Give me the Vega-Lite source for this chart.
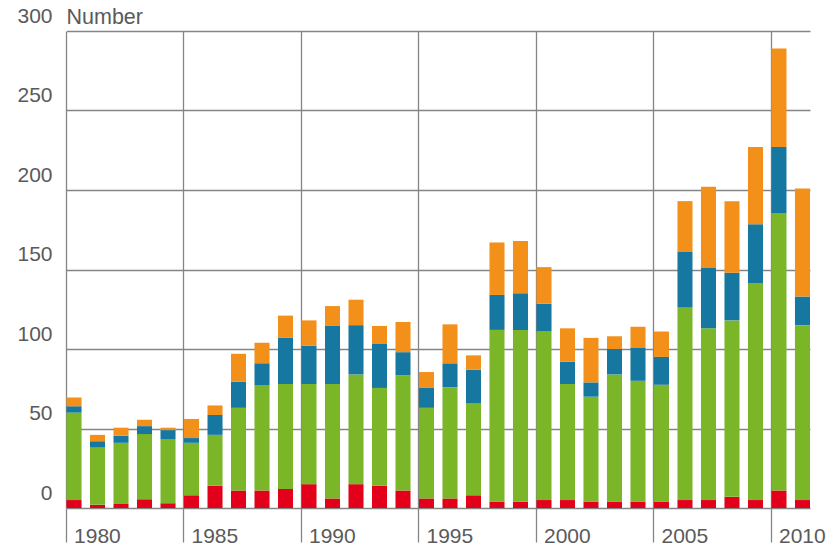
{
  "$schema": "https://vega.github.io/schema/vega-lite/v6.json",
  "width": 798,
  "height": 477,
  "autosize": {"type": "none"},
  "padding": {"left": 12, "top": 31, "right": 23, "bottom": 44},
  "background": "white",
  "config": {
    "view": {"stroke": null},
    "font": "Liberation Sans",
    "axis": {
      "labelFont": "Liberation Sans",
      "titleFont": "Liberation Sans",
      "labelFontSize": 21,
      "titleFontSize": 21.5,
      "labelColor": "#5a5a5a",
      "titleColor": "#5a5a5a",
      "titleFontWeight": "normal",
      "gridColor": "#858585",
      "gridWidth": 1.3,
      "gridOpacity": 1,
      "tickColor": "#858585",
      "tickWidth": 1.3,
      "domain": false,
      "labelOverlap": false
    }
  },
  "data": {
    "values": [
      {"year": 1980, "s1": 5, "s2": 55, "s3": 4, "s4": 5.5},
      {"year": 1981, "s1": 2, "s2": 36, "s3": 4, "s4": 4},
      {"year": 1982, "s1": 2.5, "s2": 38.5, "s3": 4.5, "s4": 5},
      {"year": 1983, "s1": 5.5, "s2": 41, "s3": 5, "s4": 4},
      {"year": 1984, "s1": 3, "s2": 40, "s3": 6, "s4": 1.5},
      {"year": 1985, "s1": 8, "s2": 33, "s3": 3, "s4": 12},
      {"year": 1986, "s1": 14, "s2": 32, "s3": 12.5, "s4": 6},
      {"year": 1987, "s1": 11, "s2": 52, "s3": 16.5, "s4": 17.5},
      {"year": 1988, "s1": 11, "s2": 66, "s3": 14, "s4": 13},
      {"year": 1989, "s1": 12, "s2": 66, "s3": 29, "s4": 14},
      {"year": 1990, "s1": 15, "s2": 63, "s3": 24, "s4": 16},
      {"year": 1991, "s1": 6, "s2": 72, "s3": 36.5, "s4": 12.5},
      {"year": 1992, "s1": 15, "s2": 69, "s3": 31, "s4": 16},
      {"year": 1993, "s1": 14, "s2": 61.5, "s3": 28, "s4": 11},
      {"year": 1994, "s1": 11, "s2": 72.5, "s3": 14.5, "s4": 19},
      {"year": 1995, "s1": 6, "s2": 57, "s3": 12.5, "s4": 10},
      {"year": 1996, "s1": 6, "s2": 70, "s3": 15, "s4": 24.5},
      {"year": 1997, "s1": 8, "s2": 58, "s3": 21, "s4": 9},
      {"year": 1998, "s1": 4, "s2": 108, "s3": 22, "s4": 33},
      {"year": 1999, "s1": 4, "s2": 108, "s3": 23, "s4": 33},
      {"year": 2000, "s1": 5, "s2": 106, "s3": 17.5, "s4": 23},
      {"year": 2001, "s1": 5, "s2": 73, "s3": 14, "s4": 21},
      {"year": 2002, "s1": 4, "s2": 66, "s3": 9, "s4": 28},
      {"year": 2003, "s1": 4, "s2": 80, "s3": 16, "s4": 8},
      {"year": 2004, "s1": 4, "s2": 76, "s3": 21, "s4": 13},
      {"year": 2005, "s1": 4, "s2": 73.5, "s3": 17.5, "s4": 16},
      {"year": 2006, "s1": 5, "s2": 121, "s3": 35, "s4": 32},
      {"year": 2007, "s1": 5, "s2": 108, "s3": 38, "s4": 51},
      {"year": 2008, "s1": 7, "s2": 111, "s3": 30, "s4": 45},
      {"year": 2009, "s1": 5, "s2": 136.5, "s3": 37, "s4": 48.5},
      {"year": 2010, "s1": 11, "s2": 174.5, "s3": 41.5, "s4": 62},
      {"year": 2011, "s1": 5, "s2": 110, "s3": 18, "s4": 68}
    ]
  },
  "transform": [
    {"fold": ["s1", "s2", "s3", "s4"], "as": ["series", "value"]}
  ],
  "mark": {"type": "bar", "strokeWidth": 0},
  "encoding": {
    "x": {
      "field": "year",
      "type": "ordinal",
      "scale": {"type": "band", "paddingInner": 0.36, "paddingOuter": 0, "range": [54.5, 798], "round": false},
      "axis": {
        "title": null,
        "values": [1980, 1985, 1990, 1995, 2000, 2005, 2010],
        "bandPosition": 0,
        "grid": true,
        "ticks": true,
        "tickSize": 34,
        "labelAngle": 0,
        "labelAlign": "left",
        "labelBaseline": "alphabetic",
        "labelOffset": 0,
        "labelPadding": 0
      }
    },
    "y": {
      "field": "value",
      "type": "quantitative",
      "stack": "zero",
      "scale": {"domain": [0, 300], "nice": false},
      "axis": {
        "values": [0, 50, 100, 150, 200, 250, 300],
        "grid": true,
        "ticks": false,
        "tickSize": 0,
        "labelAlign": "right",
        "labelBaseline": "alphabetic",
        "labelPadding": -40,
        "labelOffset": -9,
        "title": "Number",
        "titleAngle": 0,
        "titleAlign": "left",
        "titleBaseline": "alphabetic",
        "titleX": 54,
        "titleY": -8
      }
    },
    "color": {
      "field": "series",
      "type": "nominal",
      "scale": {"domain": ["s1", "s2", "s3", "s4"], "range": ["#e2001a", "#7ab628", "#1678a0", "#f39019"]},
      "legend": null
    },
    "order": {"field": "series", "type": "nominal", "sort": "ascending"}
  }
}
